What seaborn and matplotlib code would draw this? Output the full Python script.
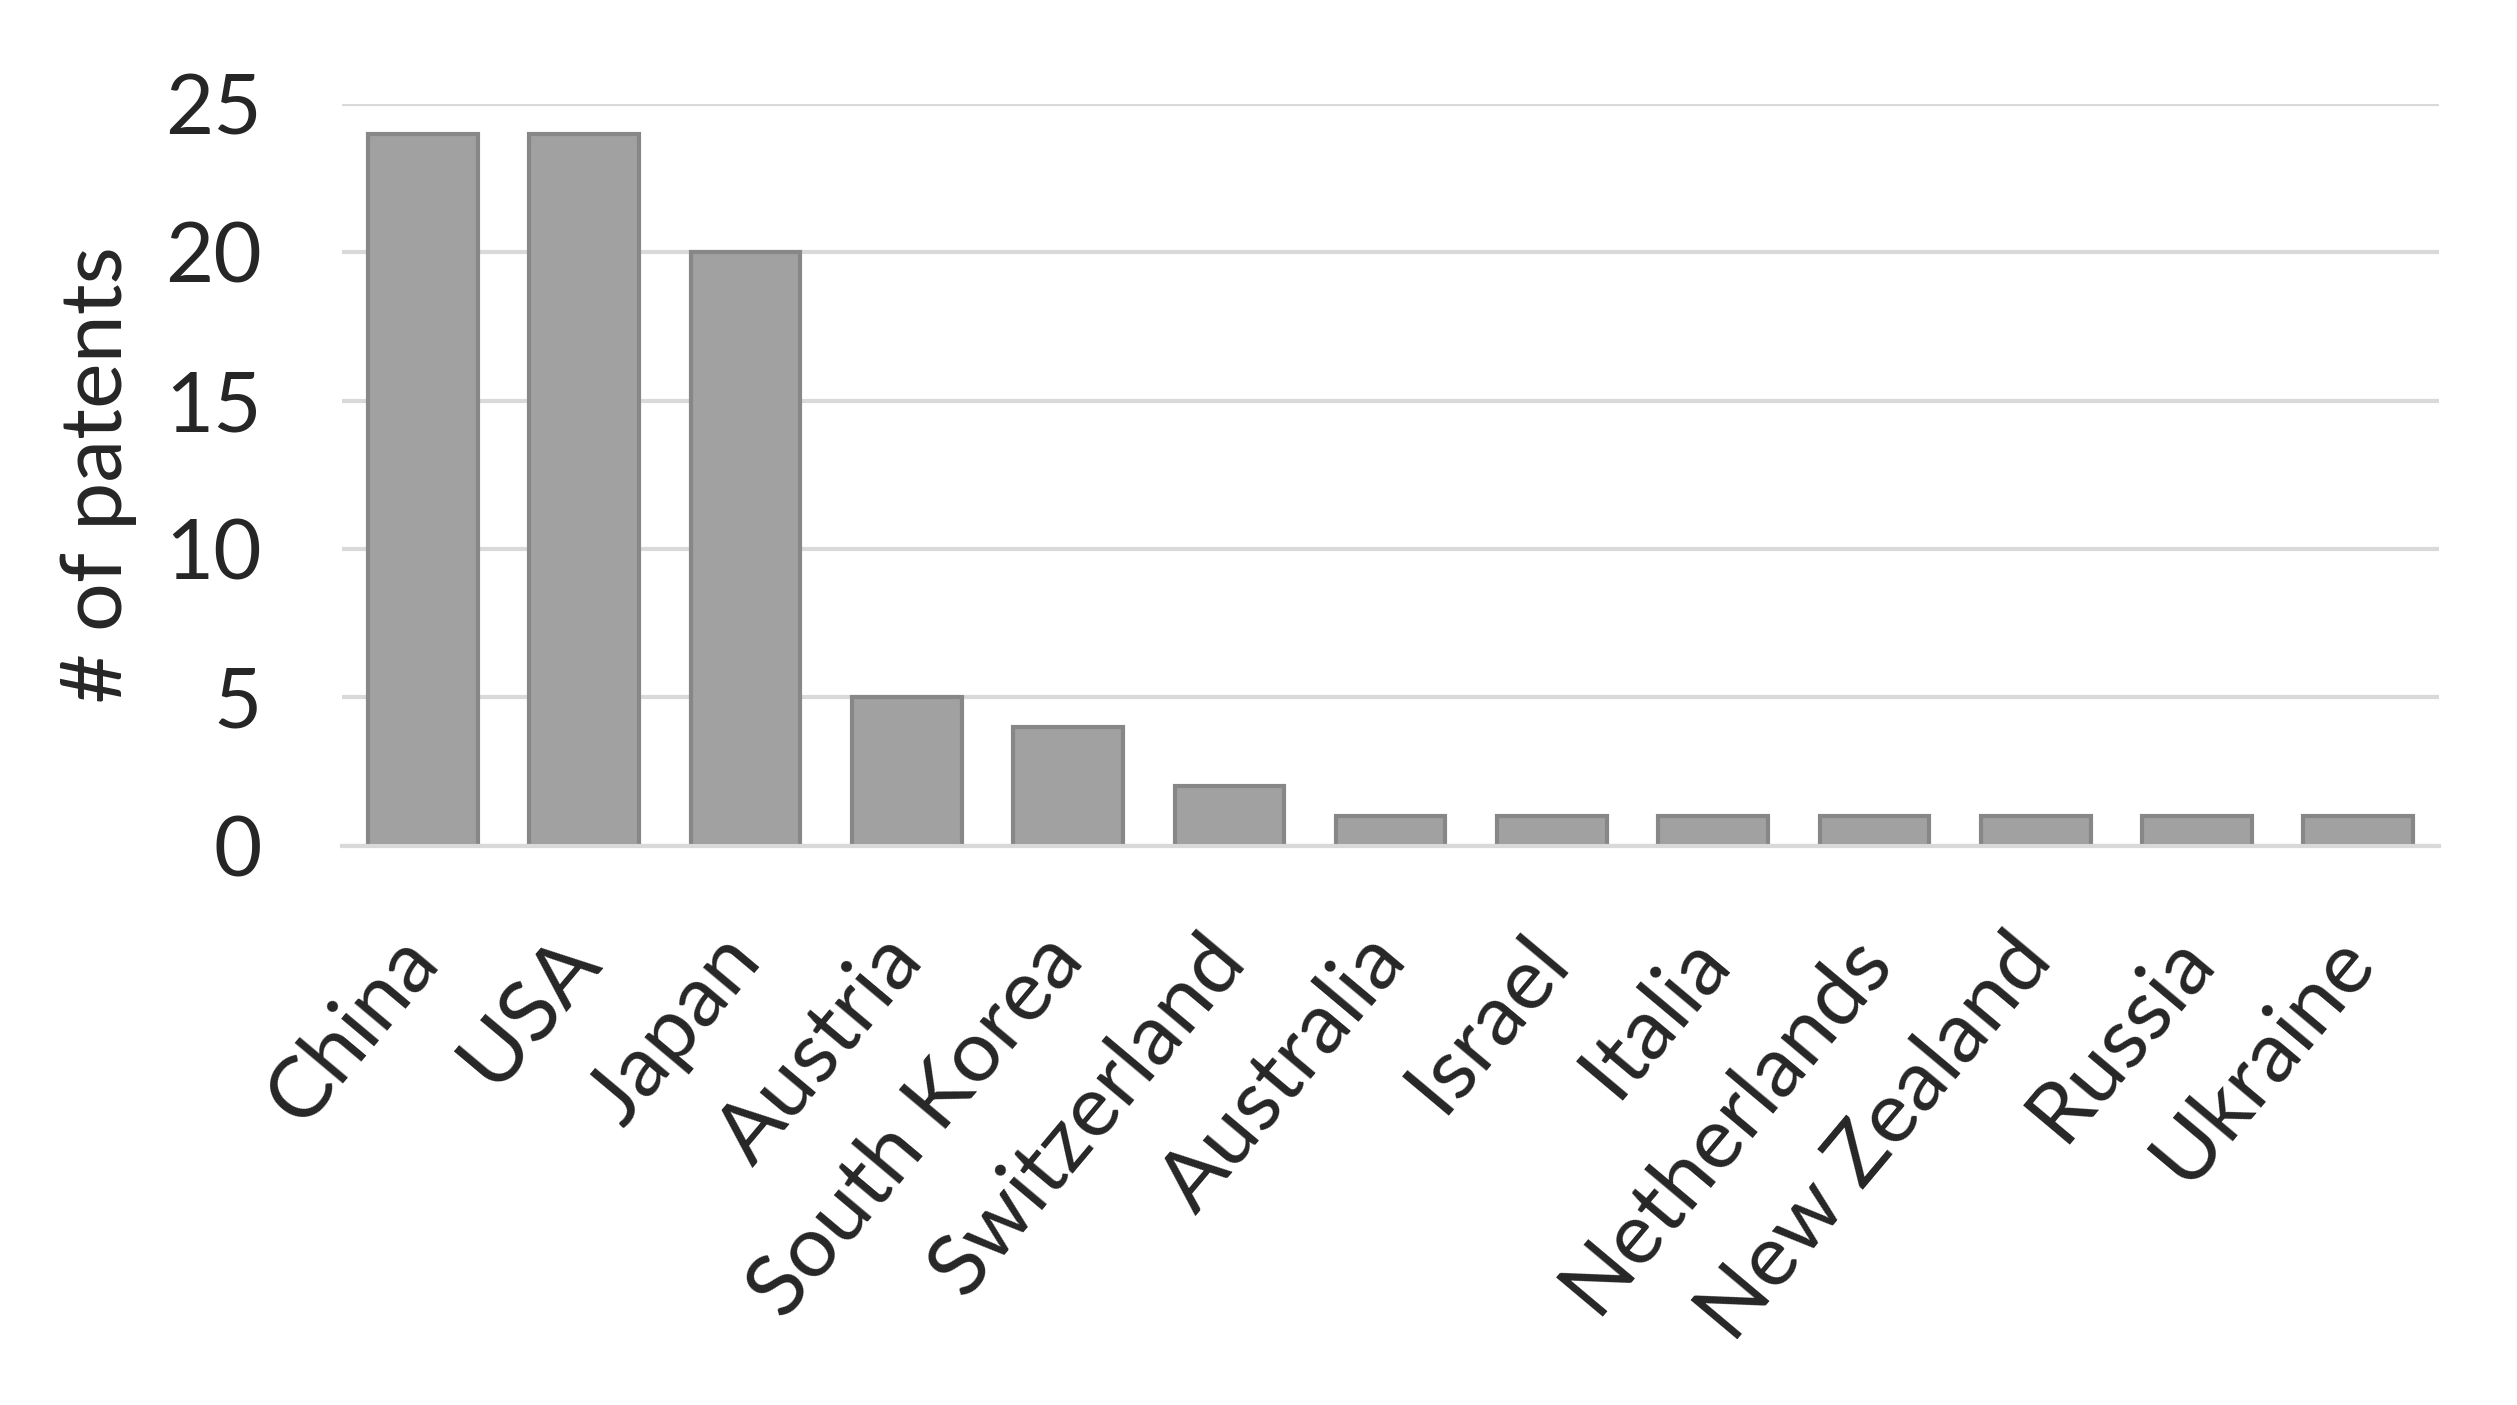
import pandas as pd
import seaborn as sns
import matplotlib.pyplot as plt

countries = ["China", "USA", "Japan", "Austria", "South Korea", "Switzerland",
             "Australia", "Israel", "Italia", "Netherlands", "New Zealand",
             "Russia", "Ukraine"]
patents = [24, 24, 20, 5, 4, 2, 1, 1, 1, 1, 1, 1, 1]
yticks = [0, 5, 10, 15, 20, 25]

df = pd.DataFrame({"Country": countries, "Patents": patents})

sns.set_style("white")
plt.rcParams["font.family"] = ["Lato", "DejaVu Sans"]

fig = plt.figure(figsize=(25.17, 14.05), dpi=100)
ax = fig.add_axes([0.136, 0.398, 0.833, 0.528])

sns.barplot(data=df, x="Country", y="Patents", color="#a1a1a1",
            edgecolor="#878787", linewidth=3, width=0.68, saturation=1, ax=ax)

ax.set_ylim(0, 25)
ax.set_yticks(yticks)
ax.yaxis.grid(True, color="#d9d9d9", linewidth=3)
ax.set_axisbelow(True)
for s in ["top", "right", "left"]:
    ax.spines[s].set_visible(False)
ax.spines["bottom"].set_color("#d9d9d9")
ax.spines["bottom"].set_linewidth(3)
ax.tick_params(axis="y", length=0, labelsize=60, pad=58)
ax.tick_params(axis="x", length=0, labelsize=62, pad=72)
ax.set_xlabel("")
ax.set_ylabel("# of patents", fontsize=62, labelpad=20)
plt.setp(ax.get_xticklabels(), rotation=50, ha="right", va="center",
         rotation_mode="anchor")

fig.savefig("out.png", dpi=100, facecolor="white")
